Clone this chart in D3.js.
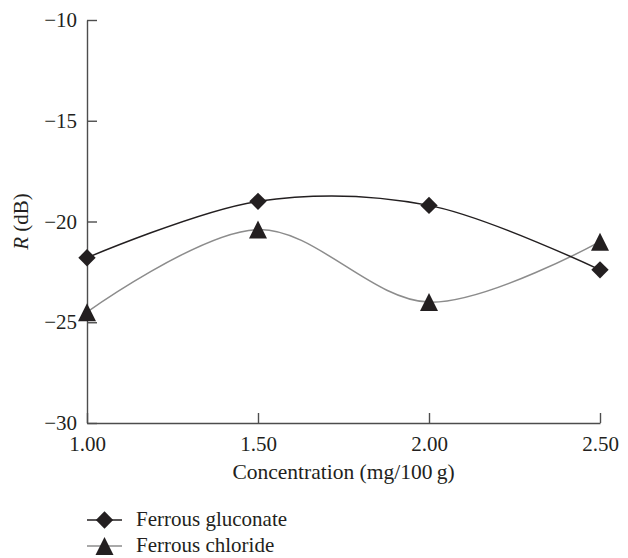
<!DOCTYPE html>
<html>
<head>
<meta charset="utf-8">
<script src="https://cdn.jsdelivr.net/npm/d3@7"></script>
<style>
  body { margin: 0; background: #fff; }
  svg text { font-family: "Liberation Serif", "Times New Roman", "DejaVu Serif", serif !important; }
</style>
</head>
<body>
<div id="chart"></div>
<script>
// Reflection loss vs. iron salt concentration
const concentrations = [1.00, 1.50, 2.00, 2.50];
const gluconate = [-21.8, -19.0, -19.2, -22.4];
const chloride = [-24.5, -20.4, -24.0, -21.0];
const xTicks = [1.00, 1.50, 2.00, 2.50];
const yTicks = [-30, -25, -20, -15, -10];
const seriesNames = ["Ferrous gluconate", "Ferrous chloride"];

const width = 628, height = 558;
const margin = {left: 87, right: 28, top: 20, bottom: 135};

const svg = d3.select("#chart")
    .append("svg")
    .attr("width", width)
    .attr("height", height);

const x = d3.scaleLinear()
    .domain([1.00, 2.50])
    .range([margin.left, width - margin.right]);

const y = d3.scaleLinear()
    .domain([-30, -10])
    .range([height - margin.bottom, margin.top]);

const axisColor = "#4d4d4d";
const fontSize = 21;
const textColor = "#231f20";

// x axis, ticks pointing inward
const gx = svg.append("g")
    .attr("transform", `translate(0,${y(-30)})`)
    .call(d3.axisBottom(x).tickValues(xTicks).tickSize(-10).tickPadding(13)
        .tickFormat(d3.format(".2f")).tickSizeOuter(0));
gx.select(".domain").attr("stroke", axisColor).attr("stroke-width", 1.4);
gx.selectAll(".tick line").attr("stroke", axisColor).attr("stroke-width", 1.4);
gx.selectAll(".tick text")
    .attr("font-size", fontSize)
    .attr("fill", textColor);

// y axis, ticks pointing inward
const gy = svg.append("g")
    .attr("transform", `translate(${x(1.00)},0)`)
    .call(d3.axisLeft(y).tickValues(yTicks).tickSize(-10).tickPadding(10)
        .tickFormat(d => "\u2212" + Math.abs(d)).tickSizeOuter(0));
gy.select(".domain").attr("stroke", axisColor).attr("stroke-width", 1.4);
gy.selectAll(".tick line").attr("stroke", axisColor).attr("stroke-width", 1.4);
gy.selectAll(".tick text")
    .attr("font-size", fontSize)
    .attr("fill", textColor);

// axis titles
svg.append("text")
    .attr("x", (x(1.00) + x(2.50)) / 2)
    .attr("y", 479)
    .attr("text-anchor", "middle")
    .attr("font-size", 21.5)
    .attr("fill", textColor)
    .text("Concentration (mg/100\u2009g)");

const yTitle = svg.append("text")
    .attr("transform", `translate(28,${(y(-10) + y(-30)) / 2}) rotate(-90)`)
    .attr("text-anchor", "middle")
    .attr("font-size", fontSize)
    .attr("fill", textColor);
yTitle.append("tspan").attr("font-style", "italic").text("R");
yTitle.append("tspan").text(" (dB)");

// smoothed lines
const line = d3.line()
    .x((d, i) => x(concentrations[i]))
    .y(d => y(d))
    .curve(d3.curveCatmullRom.alpha(0.5));

svg.append("path")
    .datum(chloride)
    .attr("fill", "none")
    .attr("stroke", "#8c8c8c")
    .attr("stroke-width", 1.5)
    .attr("d", line);

svg.append("path")
    .datum(gluconate)
    .attr("fill", "none")
    .attr("stroke", textColor)
    .attr("stroke-width", 1.5)
    .attr("d", line);

const diamond = d3.symbol().type(d3.symbolSquare).size(150);
const triangle = "M0,-9L9,9L-9,9Z";

svg.append("g")
    .selectAll("path")
    .data(gluconate)
    .enter()
    .append("path")
      .attr("d", diamond)
      .attr("transform", (d, i) => `translate(${x(concentrations[i])},${y(d)}) rotate(45)`)
      .attr("fill", textColor);

svg.append("g")
    .selectAll("path")
    .data(chloride)
    .enter()
    .append("path")
      .attr("d", triangle)
      .attr("transform", (d, i) => `translate(${x(concentrations[i])},${y(d)})`)
      .attr("fill", textColor);

// legend
const legendX1 = 87, legendX2 = 122, legendText = 136;
const legendY = [520, 546];
const legend = svg.append("g");
seriesNames.forEach((name, i) => {
  legend.append("line")
      .attr("x1", legendX1).attr("x2", legendX2)
      .attr("y1", legendY[i]).attr("y2", legendY[i])
      .attr("stroke", i === 0 ? textColor : "#8c8c8c")
      .attr("stroke-width", 1.5);
  legend.append("path")
      .attr("d", i === 0 ? diamond : triangle)
      .attr("transform", i === 0
          ? `translate(${(legendX1 + legendX2) / 2},${legendY[i]}) rotate(45)`
          : `translate(${(legendX1 + legendX2) / 2},${legendY[i]})`)
      .attr("fill", textColor);
  legend.append("text")
      .attr("x", legendText)
      .attr("y", legendY[i] + 6)
      .attr("font-size", fontSize)
      .attr("fill", textColor)
      .text(name);
});
</script>
</body>
</html>
